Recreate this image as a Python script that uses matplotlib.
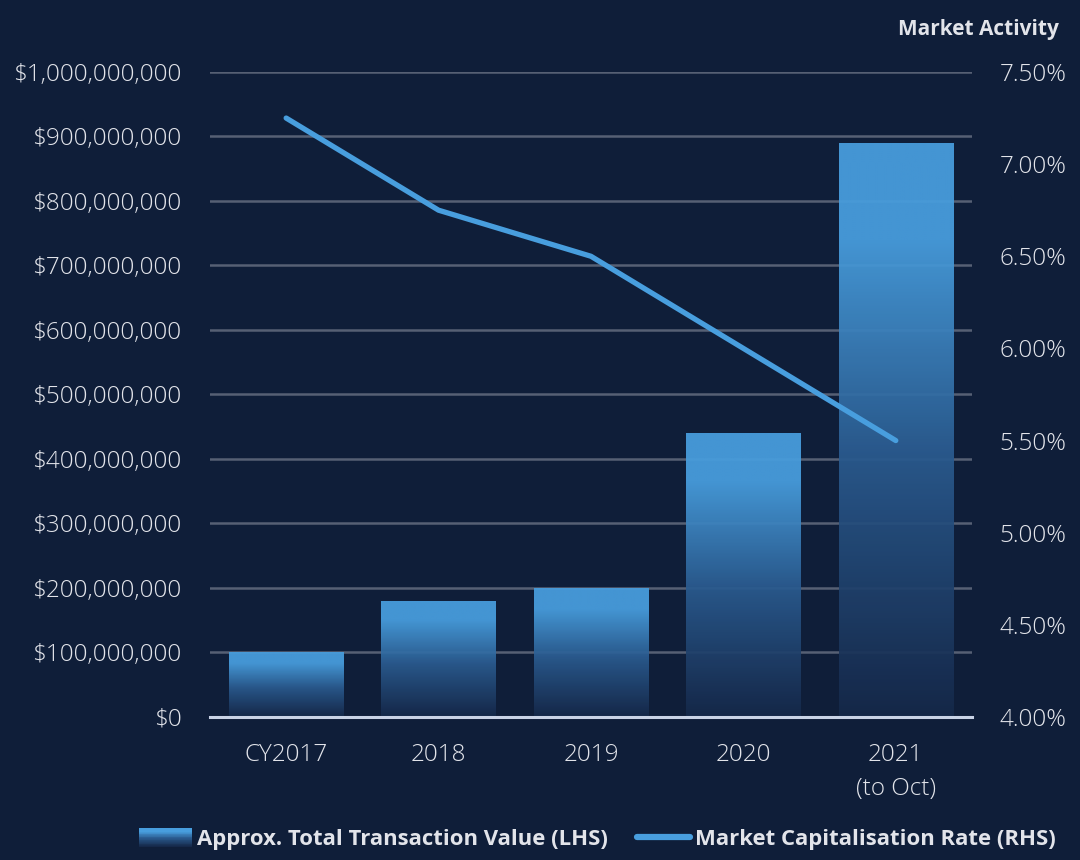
import numpy as np
import matplotlib
matplotlib.use("Agg")
import matplotlib.pyplot as plt
from matplotlib.colors import LinearSegmentedColormap
from matplotlib.legend_handler import HandlerBase
from matplotlib.patches import Rectangle, Patch
from matplotlib.lines import Line2D
from matplotlib.ticker import FuncFormatter, MultipleLocator

# ---- data ----
categories = ["CY2017", "2018", "2019", "2020", "2021\n(to Oct)"]
transaction_value = [100_000_000, 180_000_000, 200_000_000, 440_000_000, 890_000_000]
cap_rate = [7.25, 6.75, 6.50, 6.00, 5.50]

bar_label = "Approx. Total Transaction Value (LHS)"
line_label = "Market Capitalisation Rate (RHS)"
title = "Market Activity"

# ---- style ----
BG = "#0f1e39"
TEXT = "#e2e4ea"
GRID = "#566074"
BLUE = "#489ede"
DARK = "#152849"
FONT = ["Open Sans", "DejaVu Sans"]
TICK_SIZE = 17.5

plt.rcParams["font.family"] = FONT

grad_cmap = LinearSegmentedColormap.from_list(
    "bar_grad", [(0.0, DARK), (0.45, "#2a5a8e"), (0.83, BLUE), (1.0, BLUE)]
)

fig = plt.figure(figsize=(10.8, 8.6), dpi=100, facecolor=BG)
ax = fig.add_axes([0.1944, 0.1663, 0.9 - 0.1944, 0.9163 - 0.1663])
ax.set_facecolor(BG)

x = np.arange(len(categories))
width = 0.75

# horizontal gridlines
for v in np.arange(100_000_000, 1_000_000_001, 100_000_000):
    ax.axhline(v, color=GRID, lw=1.8, zorder=1)

# gradient-filled bars
bars = ax.bar(x, transaction_value, width=width, color="none", edgecolor="none", zorder=2)
grad = np.linspace(0, 1, 256).reshape(-1, 1)
for rect in bars:
    x0, y0 = rect.get_x(), rect.get_y()
    w, h = rect.get_width(), rect.get_height()
    im = ax.imshow(grad, cmap=grad_cmap, origin="lower", aspect="auto",
                   extent=(x0, x0 + w, y0, y0 + h), zorder=2, alpha=0.94,
                   interpolation="bilinear")
    im.set_clip_path(rect)

ax.set_xlim(-0.5, len(categories) - 0.5)
ax.set_ylim(0, 1_000_000_000)
ax.yaxis.set_major_locator(MultipleLocator(100_000_000))
ax.yaxis.set_major_formatter(FuncFormatter(lambda v, p: f"${v:,.0f}"))
ax.set_xticks(x)
ax.set_xticklabels(categories)

for s in ["top", "right", "left"]:
    ax.spines[s].set_visible(False)
ax.spines["bottom"].set_color("#c9d3e6")
ax.spines["bottom"].set_linewidth(2.2)
ax.spines["bottom"].set_zorder(5)

ax.tick_params(axis="y", length=0, pad=20.5, labelsize=TICK_SIZE, labelcolor=TEXT)
ax.tick_params(axis="x", length=0, pad=19, labelsize=TICK_SIZE, labelcolor=TEXT)
for lab in ax.get_yticklabels() + ax.get_xticklabels():
    lab.set_fontweight("light")
    lab.set_linespacing(1.55)

# cap-rate line on the right axis
ax2 = ax.twinx()
ax2.plot(x, cap_rate, color=BLUE, lw=3.8, solid_capstyle="round", zorder=6)
ax2.set_ylim(4.0, 7.5)
ax2.yaxis.set_major_locator(MultipleLocator(0.5))
ax2.yaxis.set_major_formatter(FuncFormatter(lambda v, p: f"{v:.2f}%"))
ax2.tick_params(axis="y", length=0, pad=20, labelsize=TICK_SIZE, labelcolor=TEXT)
for lab in ax2.get_yticklabels():
    lab.set_fontweight("light")
for s in ax2.spines.values():
    s.set_visible(False)

fig.text(0.98, 0.978, title, ha="right", va="top", color=TEXT,
         fontsize=15, fontweight="bold")


class GradientHandler(HandlerBase):
    def create_artists(self, legend, orig_handle, xdescent, ydescent,
                       width, height, fontsize, trans):
        n = 24
        arts = []
        for i in range(n):
            c = grad_cmap(1 - i / (n - 1))
            r = Rectangle((-xdescent, -ydescent + height * (1 - (i + 1) / n)),
                          width, height / n + 0.3, facecolor=c, edgecolor="none",
                          transform=trans)
            arts.append(r)
        return arts


bar_handle = Patch(facecolor=BLUE)
line_handle = Line2D([], [], color=BLUE, lw=4.5, solid_capstyle="round")
leg = fig.legend([bar_handle, line_handle], [bar_label, line_label],
                 handler_map={Patch: GradientHandler()},
                 loc="lower center", bbox_to_anchor=(0.553, -0.012), ncol=2,
                 frameon=False, handlelength=2.4, handleheight=0.9,
                 handletextpad=0.25, columnspacing=1.3,
                 prop={"size": 15.9, "weight": "bold"})
for t in leg.get_texts():
    t.set_color(TEXT)

fig.savefig("out.png", dpi=100, facecolor=BG)
